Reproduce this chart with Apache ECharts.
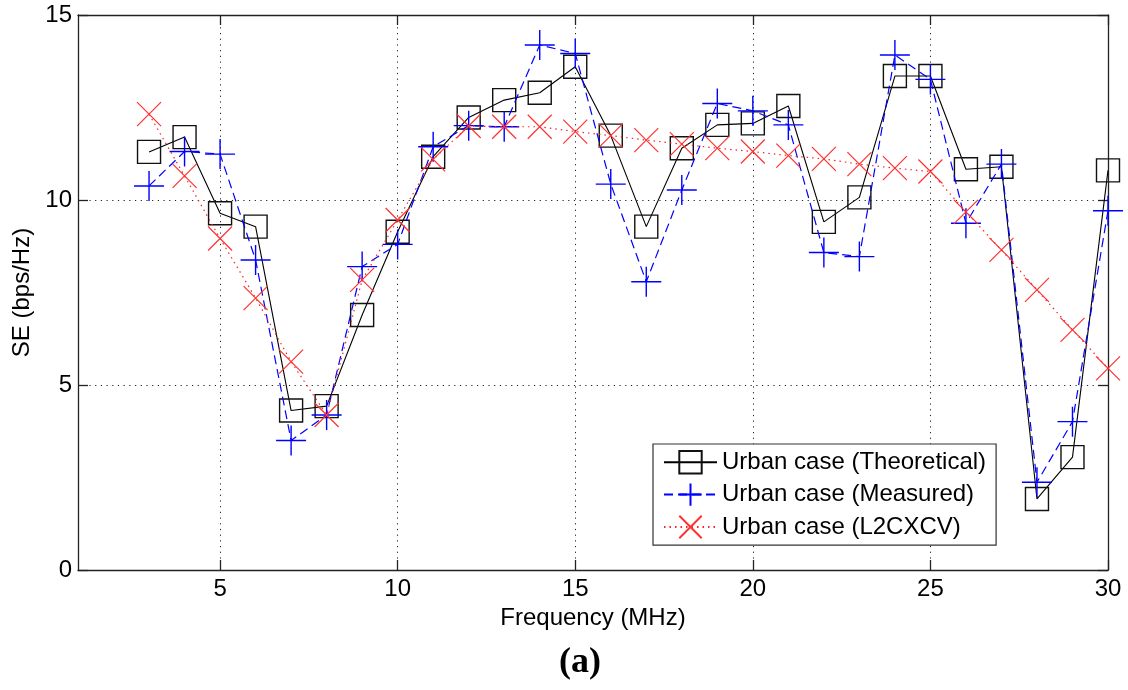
<!DOCTYPE html>
<html>
<head>
<meta charset="utf-8">
<script src="https://cdn.jsdelivr.net/npm/echarts@6/dist/echarts.min.js"></script>
<style>
html,body{margin:0;padding:0;background:#fff;}
#chart{width:1128px;height:690px;}
</style>
</head>
<body>
<div id="chart"></div>
<script>
// Data
var frequency = [3,4,5,6,7,8,9,10,11,12,13,14,15,16,17,18,19,20,21,22,23,24,25,26,27,28,29,30];
var theoretical = [11.3,11.7,9.64,9.28,4.31,4.43,6.89,9.14,11.17,12.23,12.7,12.9,13.6,11.74,9.28,11.4,12.03,12.07,12.54,9.41,10.07,13.35,13.35,10.83,10.9,1.92,3.05,10.8];
var measured = [10.38,11.31,11.24,8.38,3.5,4.19,8.2,8.8,11.44,12.01,11.98,14.19,13.96,10.43,7.79,10.27,12.61,12.41,12.03,8.58,8.47,13.92,13.26,9.37,10.97,2.37,4.01,9.71];
var l2cxcv = [12.32,10.65,8.96,7.35,5.63,4.19,7.84,9.46,11.1,12.0,11.98,11.98,11.85,11.74,11.62,11.51,11.4,11.31,11.2,11.11,10.97,10.86,10.77,9.68,8.65,7.57,6.49,5.45];
var seriesNames = ['Urban case (Theoretical)','Urban case (Measured)','Urban case (L2CXCV)'];
var xTicks = [5,10,15,20,25,30];
var xGridLines = [5,10,15,20,25];
var xLabel = 'Frequency (MHz)';
var yLabel = 'SE (bps/Hz)';
var panelLabel = '(a)';

function pairs(ys){ return frequency.map(function(f,i){ return [f, ys[i]]; }); }

var FONT = '"Liberation Sans", Arial, sans-serif';
var chart = echarts.init(document.getElementById('chart'), null, {renderer:'canvas'});
var gridDot = {color:'#222', width:1, type:[1.2,4.5]};
var axisLine = {show:true, onZero:false, lineStyle:{color:'#222', width:1.3}};

chart.setOption({
  animation:false,
  backgroundColor:'#fff',
  grid:{left:78, right:20, top:15, bottom:120, containLabel:false},
  legend:{
    orient:'vertical', left:653, top:444,
    backgroundColor:'#fff', borderColor:'#333', borderWidth:1.2, borderRadius:0,
    padding:[6,10,6,10], itemWidth:53, itemHeight:28, itemGap:8,
    textStyle:{fontFamily:FONT, fontSize:24, color:'#000'},
    data:seriesNames
  },
  xAxis:[{
    type:'value', min:1, max:30, position:'bottom',
    name:xLabel, nameLocation:'middle', nameGap:36,
    nameTextStyle:{fontFamily:FONT, fontSize:24, color:'#000'},
    axisLine:axisLine,
    axisTick:{show:true, inside:true, length:10, customValues:xTicks, lineStyle:{color:'#222', width:1.3}},
    axisLabel:{show:true, customValues:xTicks, margin:7, fontFamily:FONT, fontSize:24, color:'#000'},
    splitLine:{show:false}
  },{
    type:'value', min:1, max:30, position:'top',
    axisLine:axisLine,
    axisTick:{show:true, inside:true, length:10, customValues:xTicks, lineStyle:{color:'#222', width:1.3}},
    axisLabel:{show:false},
    splitLine:{show:false}
  }],
  yAxis:[{
    type:'value', min:0, max:15, interval:5, position:'left',
    name:yLabel, nameLocation:'middle', nameGap:41,
    nameTextStyle:{fontFamily:FONT, fontSize:24, color:'#000'},
    axisLine:axisLine,
    axisTick:{show:true, inside:true, length:10, lineStyle:{color:'#222', width:1.3}},
    axisLabel:{margin:6, fontFamily:FONT, fontSize:24, color:'#000'},
    splitLine:{show:true, lineStyle:gridDot}
  },{
    type:'value', min:0, max:15, interval:5, position:'right',
    axisLine:axisLine,
    axisTick:{show:true, inside:true, length:10, lineStyle:{color:'#222', width:1.3}},
    axisLabel:{show:false},
    splitLine:{show:false}
  }],
  graphic:[{
    type:'text', x:580, y:663,
    style:{text:panelLabel, fontFamily:'"Liberation Serif", "Times New Roman", serif', fontWeight:'bold', fontSize:36, fill:'#000', align:'center', verticalAlign:'middle'}
  }],
  series:[{
    name:seriesNames[0], type:'line', data:pairs(theoretical), clip:false,
    symbol:'rect', symbolSize:23,
    lineStyle:{color:'#000', width:1.1, type:'solid'},
    itemStyle:{color:'rgba(0,0,0,0)', borderColor:'#111', borderWidth:1.4},
    markLine:{
      silent:true, symbol:'none', label:{show:false},
      lineStyle:gridDot, z:0,
      data:xGridLines.map(function(v){ return {xAxis:v}; })
    },
    z:2
  },{
    name:seriesNames[1], type:'line', data:pairs(measured), clip:false,
    symbol:'path://M15,0L15,30M0,15L30,15', symbolSize:30,
    lineStyle:{color:'#0000ff', width:1.2, type:[9,5]},
    itemStyle:{color:'rgba(0,0,0,0)', borderColor:'#0000ff', borderWidth:1.4},
    z:3
  },{
    name:seriesNames[2], type:'line', data:pairs(l2cxcv), clip:false,
    symbol:'path://M0,0L24,24M0,24L24,0', symbolSize:24,
    lineStyle:{color:'#ff2020', width:1.2, type:[1.5,4]},
    itemStyle:{color:'rgba(0,0,0,0)', borderColor:'#ff3030', borderWidth:1.2},
    z:4
  }]
});
</script>
</body>
</html>
